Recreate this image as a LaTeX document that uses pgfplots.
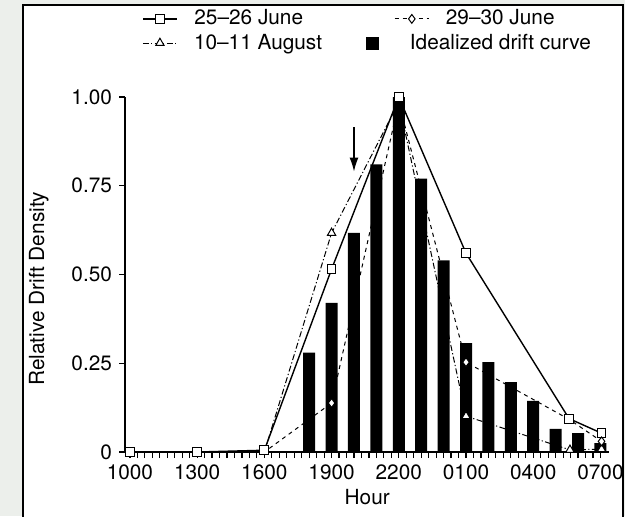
\documentclass[border=0pt]{standalone}
\usepackage{fontspec}
\setmainfont{TeX Gyre Heros}
\usepackage{pgfplots}
\pgfplotsset{compat=1.18}
\usetikzlibrary{arrows.meta}
\definecolor{bgc}{RGB}{236,239,235}
\newcommand{\ff}{\fontsize{10.4}{12.5}\selectfont}
\pgfplotsset{
  geom/.style={at={(62.5pt,32pt)}, anchor=south west, scale only axis,
    width=242.2pt, height=177.5pt, xmin=-0.22, xmax=21.4, ymin=0, ymax=1},
  legax/.style={geom, hide axis, legend cell align=left,
    legend style={at={(axis description cs:#1)}, anchor=west, draw=none, fill=none, inner sep=0pt,
      nodes={inner xsep=2.25pt, inner ysep=1pt}, font=\ff}},
  sq/.style={black, line width=0.7pt, mark=square*, mark size=2.2pt, mark options={fill=white, solid, line width=0.5pt}},
  di/.style={black, line width=0.5pt, dash pattern=on 2pt off 2pt, mark=diamond*, mark size=2.2pt, mark options={fill=white, solid}},
  tr/.style={black, line width=0.5pt, dash pattern=on 3pt off 1.2pt on 0.6pt off 1.2pt, mark=triangle*, mark size=2.4pt, mark options={fill=white, solid}},
}
\begin{document}
\begin{tikzpicture}
\clip (0,0) rectangle (312.5pt,258pt);
\fill[bgc] (0,0) rectangle (312.5pt,258pt);
\fill[white] (11.6pt,-5pt) rectangle (311.5pt,255.6pt);
\begin{axis}[
  geom,
  axis x line*=bottom, axis y line*=left,
  axis line style={line width=0.8pt,-},
  xtick={0,3,...,21}, xticklabels={1000,1300,1600,1900,2200,0100,0400,0700},
  minor x tick num=8,
  ytick={0,0.25,0.5,0.75,1}, yticklabels={0,0.25,0.50,0.75,1.00},
  tick align=outside, major tick length=3pt, minor tick length=3pt,
  tick style={line width=0.6pt, black},
  tick label style={font=\ff},
  label style={font=\ff},
  /pgf/number format/assume math mode=true,
  xlabel={Hour}, ylabel={Relative Drift Density},
  xlabel style={at={(axis description cs:0.5,-0.127)}, anchor=center},
  ylabel style={at={(axis description cs:-0.178,0.46)}, anchor=center},
  clip=false,
]
\addplot[ybar, bar width=6pt, bar shift=0pt, fill=black, draw=none] coordinates {
(8,0.28) (9,0.42) (10,0.617) (11,0.81) (12,1.0) (13,0.77) (14,0.54)
(15,0.307) (16,0.253) (17,0.197) (18,0.144) (19,0.065) (20,0.053) (21,0.025)
};
\addplot[tr, mark indices={3,5,6,7}] coordinates {
(4.4,0) (6,0) (9,0.617) (12,0.985) (15,0.101) (19.64,0.006) (21.05,0.008)
};
\addplot[sq] coordinates {
(0,0) (3,0) (6,0.005) (9,0.515) (12,1.0) (15,0.56) (19.6,0.094) (21.05,0.053)
};
\addplot[di, mark indices={3,5,7}] coordinates {
(5.2,0) (6,0) (9,0.138) (12,0.985) (15,0.253) (19.6,0.092) (21.05,0.03)
};
\draw[line width=0.7pt, -{Latex[length=7pt,width=4.5pt]}] (axis cs:10,0.915) -- (axis cs:10,0.79);
\end{axis}
\begin{axis}[legax={0.035,1.22}]
\addlegendimage{sq}
\addlegendentry{\hspace{6pt}25--26 June}
\end{axis}
\begin{axis}[legax={0.555,1.22}]
\addlegendimage{di}
\addlegendentry{\hspace{6pt}29--30 June}
\end{axis}
\begin{axis}[legax={0.035,1.152}]
\addlegendimage{tr}
\addlegendentry{\hspace{6pt}10--11 August}
\end{axis}
\begin{axis}[legax={0.4975,1.152}]
\addlegendimage{legend image code/.code={\fill[black] (0pt,-3pt) rectangle (6pt,3pt); \path[draw=none] (0pt,0pt) -- (0.6cm,0pt);}}
\addlegendentry{\hspace{2.25pt}Idealized drift curve}
\end{axis}
\draw[line width=1.25pt] (11.6pt,-5pt) -- (11.6pt,255.6pt) -- (311.5pt,255.6pt) -- (311.5pt,-5pt);
\end{tikzpicture}
\end{document}
